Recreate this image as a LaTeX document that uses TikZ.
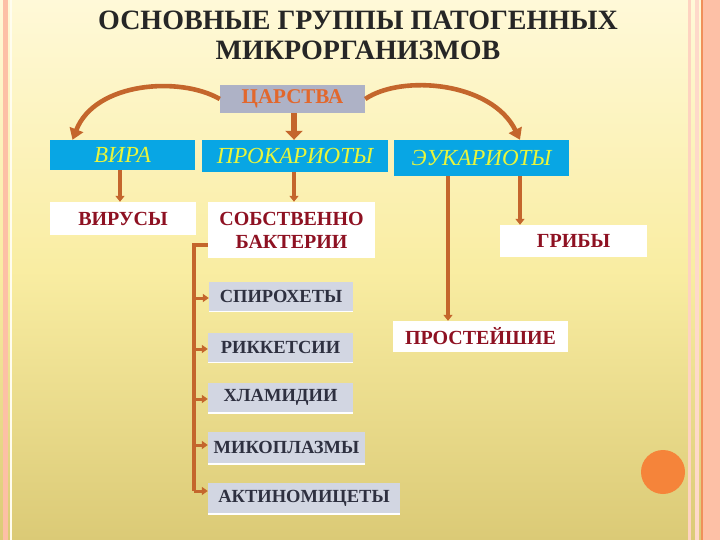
\documentclass[tikz,border=0pt]{standalone}
\usepackage{fontspec}
\setmainfont{Liberation Serif}
\usetikzlibrary{arrows.meta}
\definecolor{bgtop}{HTML}{FFF9D8}
\definecolor{bgmid}{HTML}{F9EDA2}
\definecolor{bgbot}{HTML}{DBCA76}
\definecolor{pinkband}{HTML}{FDC0A6}
\definecolor{orline}{HTML}{F0905A}
\definecolor{arr}{HTML}{C4662C}
\definecolor{kblue}{HTML}{08A6E4}
\definecolor{kyel}{HTML}{E8F53C}
\definecolor{dred}{HTML}{8E1122}
\definecolor{gbox}{HTML}{D2D6E2}
\definecolor{gtext}{HTML}{2E3040}
\definecolor{tsar}{HTML}{AEB2C6}
\definecolor{tsartext}{HTML}{E2672C}
\definecolor{dot}{HTML}{F5843A}
\tikzset{
  kingdom/.style={fill=kblue, text=kyel, font=\fontsize{23}{24}\selectfont\itshape, inner sep=0pt, minimum height=#1},
  whitebox/.style={fill=white, text=dred, font=\fontsize{20}{23}\selectfont\bfseries, inner sep=0pt, align=center},
  graybox/.style={fill=gbox, text=gtext, font=\fontsize{18.5}{20}\selectfont\bfseries, inner sep=0pt, minimum height=29pt},
  conn/.style={draw=arr, line width=3.6pt, -{Triangle[length=6pt,width=9pt]}},
  branch/.style={draw=arr, line width=3pt, -{Triangle[length=6pt,width=8pt]}},
  curvearr/.style={draw=arr, line width=4.6pt, -{Triangle[length=11pt,width=14pt]}},
}
\begin{document}
\begin{tikzpicture}[x=1pt,y=-1pt]
\useasboundingbox (0,0) rectangle (720,540);
% background
\shade[top color=bgtop, bottom color=bgbot, middle color=bgmid] (0,0) rectangle (720,540);
% left border
\fill[pinkband] (3,0) rectangle (8,540);
\fill[white!60!bgtop] (10,0) rectangle (12,540);
% right border
\fill[pinkband!70!white] (688,0) rectangle (691,540);
\fill[pinkband!60!white] (695,0) rectangle (699,540);
\fill[pinkband] (702,0) rectangle (720,540);
\draw[orline, line width=1.2pt] (702,0) -- (702,540);
% orange dot
\fill[dot] (663,472) circle (22);
% title
\node[font=\fontsize{28}{30}\selectfont\bfseries, text=black!85, align=center] (title) at (358,35)
  {ОСНОВНЫЕ ГРУППЫ ПАТОГЕННЫХ\\МИКРОРГАНИЗМОВ};
% nodes
\node[fill=tsar, text=tsartext, font=\fontsize{21}{22}\selectfont\bfseries, minimum width=145pt, minimum height=28pt, inner sep=0pt] (tsar) at (292.5,99) {ЦАРСТВА};
\node[kingdom=30pt, minimum width=145pt] (vira) at (122.5,155) {ВИРА};
\node[kingdom=32pt, minimum width=186pt] (prok) at (295,156) {ПРОКАРИОТЫ};
\node[kingdom=36pt, minimum width=175pt] (euk) at (481.5,158) {ЭУКАРИОТЫ};
\node[whitebox, minimum width=146pt, minimum height=33pt] (virus) at (123,218.5) {ВИРУСЫ};
\node[whitebox, minimum width=167pt, minimum height=56pt] (bact) at (291.5,230) {СОБСТВЕННО\\БАКТЕРИИ};
\node[whitebox, minimum width=147pt, minimum height=32pt] (fungi) at (573.5,241) {ГРИБЫ};
\node[whitebox, minimum width=175pt, minimum height=31pt] (prot) at (480.5,336.5) {ПРОСТЕЙШИЕ};
\node[graybox, minimum width=144pt] (spir) at (281,296) {СПИРОХЕТЫ};
\node[graybox, minimum width=145pt] (rick) at (280.5,347) {РИККЕТСИИ};
\node[graybox, minimum width=145pt] (chlam) at (280.5,397.5) {ХЛАМИДИИ};
\node[graybox, minimum width=157pt, minimum height=31pt] (myco) at (286.5,447.5) {МИКОПЛАЗМЫ};
\node[graybox, minimum width=192pt, minimum height=30pt] (act) at (304,498) {АКТИНОМИЦЕТЫ};
% white underline shadows on gray boxes
\foreach \n in {spir,rick,chlam,myco,act}{
  \draw[white, line width=1.5pt] ([yshift=-0.75pt]\n.south west) -- ([yshift=-0.75pt]\n.south east);
}
% arrows
\draw[draw=arr, line width=6pt, -{Triangle[length=9pt,width=17pt]}] (tsar.south -| 294,0) -- (prok.north -| 294,0);
\draw[curvearr] (tsar.west) .. controls (180,76) and (95,82) .. ([xshift=-50pt]vira.north);
\draw[curvearr] (tsar.east) .. controls (402,74) and (492,82) .. (euk.north -| 520,0);
\draw[conn] (vira.south -| 120,0) -- (virus.north -| 120,0);
\draw[conn] (prok.south -| 294,0) -- (bact.north -| 294,0);
\draw[conn] (euk.south -| 520,0) -- (fungi.north -| 520,0);
\draw[conn] (euk.south -| 448,0) -- (prot.north -| 448,0);
% bracket
\coordinate (bt) at (194,245);
\coordinate (bb) at (194,491);
\draw[draw=arr, line width=3.6pt] (bact.west |- bt) -- (bt) -- (bb);
\draw[branch] (194,298) -- (spir.west |- 0,298);
\draw[branch] (194,349) -- (rick.west |- 0,349);
\draw[branch] (194,399) -- (chlam.west |- 0,399);
\draw[branch] (194,445) -- (myco.west |- 0,445);
\draw[branch] (bb) -- (act.west |- bb);
\end{tikzpicture}
\end{document}
